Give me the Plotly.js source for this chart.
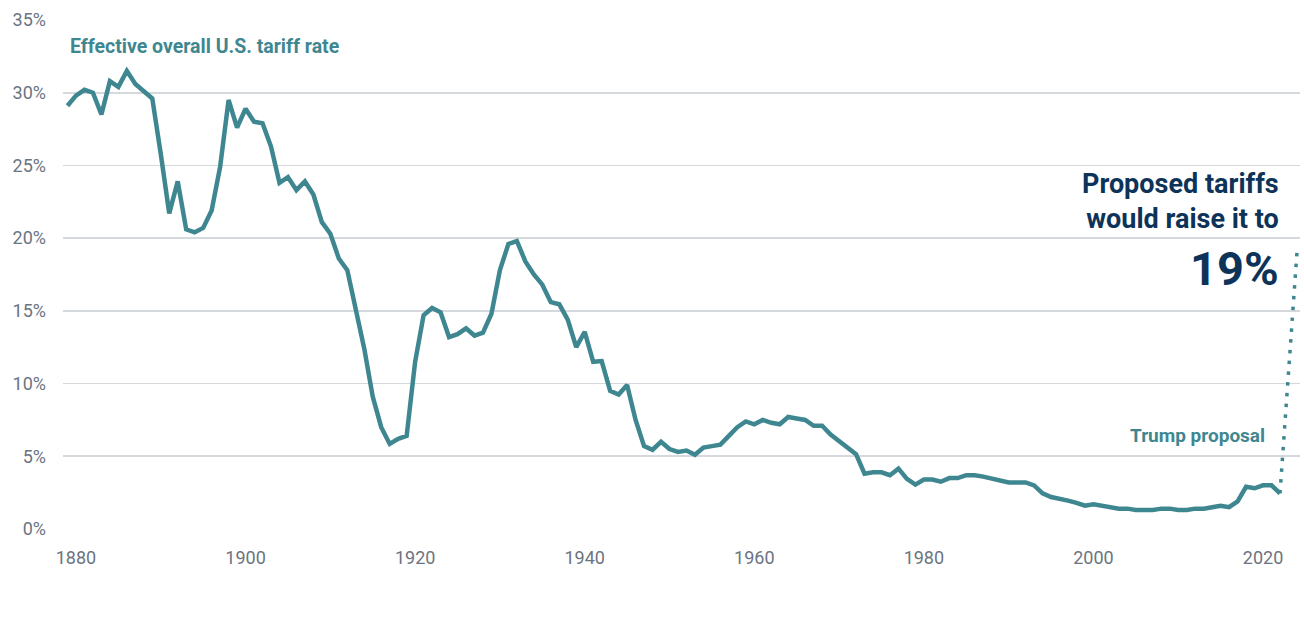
<!DOCTYPE html>
<html>
<head>
<meta charset="utf-8">
<script src="https://cdn.plot.ly/plotly-3.0.1.min.js"></script>
<style>
  html, body { margin: 0; padding: 0; background: #ffffff; }
  #chart { width: 1304px; height: 618px; }
</style>
</head>
<body>
<div id="chart"></div>
<script>
// ---- Data ----
const years = [
  1879,
  1880, 1881, 1882, 1883, 1884, 1885, 1886, 1887, 1888, 1889,
  1890, 1891, 1892, 1893, 1894, 1895, 1896, 1897, 1898, 1899,
  1900, 1901, 1902, 1903, 1904, 1905, 1906, 1907, 1908, 1909,
  1910, 1911, 1912, 1913, 1914, 1915, 1916, 1917, 1918, 1919,
  1920, 1921, 1922, 1923, 1924, 1925, 1926, 1927, 1928, 1929,
  1930, 1931, 1932, 1933, 1934, 1935, 1936, 1937, 1938, 1939,
  1940, 1941, 1942, 1943, 1944, 1945, 1946, 1947, 1948, 1949,
  1950, 1951, 1952, 1953, 1954, 1955, 1956, 1957, 1958, 1959,
  1960, 1961, 1962, 1963, 1964, 1965, 1966, 1967, 1968, 1969,
  1970, 1971, 1972, 1973, 1974, 1975, 1976, 1977, 1978, 1979,
  1980, 1981, 1982, 1983, 1984, 1985, 1986, 1987, 1988, 1989,
  1990, 1991, 1992, 1993, 1994, 1995, 1996, 1997, 1998, 1999,
  2000, 2001, 2002, 2003, 2004, 2005, 2006, 2007, 2008, 2009,
  2010, 2011, 2012, 2013, 2014, 2015, 2016, 2017, 2018, 2019,
  2020, 2021, 2022
];
const tariffRate = [
  29.1,
  29.8, 30.2, 30.0, 28.5, 30.8, 30.4, 31.5, 30.6, 30.1, 29.6,
  25.8, 21.7, 23.9, 20.6, 20.4, 20.7, 21.9, 24.9, 29.5, 27.6,
  28.9, 28.0, 27.9, 26.3, 23.8, 24.2, 23.3, 23.9, 23.0, 21.1,
  20.3, 18.6, 17.8, 15.1, 12.4, 9.1, 7.0, 5.85, 6.2, 6.4,
  11.5, 14.7, 15.2, 14.9, 13.2, 13.4, 13.8, 13.3, 13.5, 14.8,
  17.8, 19.6, 19.8, 18.4, 17.5, 16.8, 15.6, 15.45, 14.4, 12.5,
  13.55, 11.5, 11.55, 9.5, 9.25, 9.9, 7.5, 5.7, 5.45, 6.0,
  5.5, 5.3, 5.4, 5.1, 5.6, 5.7, 5.8, 6.4, 7.0, 7.4,
  7.2, 7.5, 7.3, 7.2, 7.7, 7.6, 7.5, 7.1, 7.1, 6.5,
  6.05, 5.6, 5.15, 3.8, 3.9, 3.9, 3.7, 4.15, 3.45, 3.05,
  3.4, 3.4, 3.25, 3.5, 3.5, 3.7, 3.7, 3.6, 3.45, 3.3,
  3.2, 3.2, 3.2, 3.0, 2.45, 2.2, 2.1, 1.95, 1.8, 1.6,
  1.7, 1.6, 1.5, 1.4, 1.4, 1.3, 1.3, 1.3, 1.4, 1.4,
  1.3, 1.3, 1.4, 1.4, 1.5, 1.6, 1.5, 1.9, 2.9, 2.8,
  3.0, 3.0, 2.45
];
const proposalYears = [2022, 2024];
const proposalRate = [2.45, 19];

const xTickVals = [1880, 1900, 1920, 1940, 1960, 1980, 2000, 2020];
const xTickText = ["1880", "1900", "1920", "1940", "1960", "1980", "2000", "2020"];
const yTickVals = [0, 5, 10, 15, 20, 25, 30, 35];
const yTickText = ["0%", "5%", "10%", "15%", "20%", "25%", "30%", "35%"];

// ---- Styles ----
const TEAL = "#3f8790";
const NAVY = "#0e3358";
const AXIS_GRAY = "#6b7480";
const GRID = "#d5d8dd";
const BOLDFONT = "Roboto, 'Liberation Sans', sans-serif";
const TICKFONT = "Roboto, 'Liberation Sans', sans-serif";

const traces = [
  {
    x: years, y: tariffRate, type: "scatter", mode: "lines",
    line: { color: TEAL, width: 4.5 },
    hoverinfo: "skip", showlegend: false
  },
  {
    x: proposalYears, y: proposalRate, type: "scatter", mode: "lines",
    line: { color: TEAL, width: 3.5, dash: "3.5px,7.3px" },
    hoverinfo: "skip", showlegend: false
  }
];

const layout = {
  width: 1304, height: 618,
  margin: { l: 63, r: 4, t: 20, b: 89 },
  paper_bgcolor: "#ffffff", plot_bgcolor: "#ffffff",
  showlegend: false,
  xaxis: {
    range: [1878.47, 2024.36],
    tickvals: xTickVals, ticktext: xTickText,
    showgrid: false, zeroline: false, showline: false,
    ticks: "", ticklabelstandoff: 16,
    tickfont: { family: TICKFONT, size: 18, color: AXIS_GRAY },
    fixedrange: true
  },
  yaxis: {
    range: [0, 35],
    tickvals: yTickVals, ticktext: yTickText,
    showgrid: true, gridcolor: GRID, gridwidth: 1.8,
    zeroline: false, showline: false,
    ticks: "", ticklabelstandoff: 16,
    tickfont: { family: TICKFONT, size: 18, color: AXIS_GRAY },
    fixedrange: true
  },
  annotations: [
    {
      xref: "x", yref: "y", x: 1879.1, y: 33.2,
      xanchor: "left", yanchor: "middle", showarrow: false,
      text: "<b>Effective overall U.S. tariff rate</b>",
      font: { family: BOLDFONT, size: 19.5, color: TEAL }
    },
    {
      xref: "x", yref: "y", x: 2022.1, y: 22.5,
      xanchor: "right", yanchor: "middle", align: "right", showarrow: false,
      text: "<b>Proposed tariffs<br>would raise it to</b>",
      font: { family: BOLDFONT, size: 27, color: NAVY }
    },
    {
      xref: "x", yref: "y", x: 2022.1, y: 17.9,
      xanchor: "right", yanchor: "middle", showarrow: false,
      text: "<b>19%</b>",
      font: { family: BOLDFONT, size: 47, color: NAVY }
    },
    {
      xref: "x", yref: "y", x: 2020.5, y: 6.4,
      xanchor: "right", yanchor: "middle", showarrow: false,
      text: "<b>Trump proposal</b>",
      font: { family: BOLDFONT, size: 19, color: TEAL }
    }
  ]
};

Plotly.newPlot("chart", traces, layout, { staticPlot: true, displayModeBar: false });
</script>
</body>
</html>
